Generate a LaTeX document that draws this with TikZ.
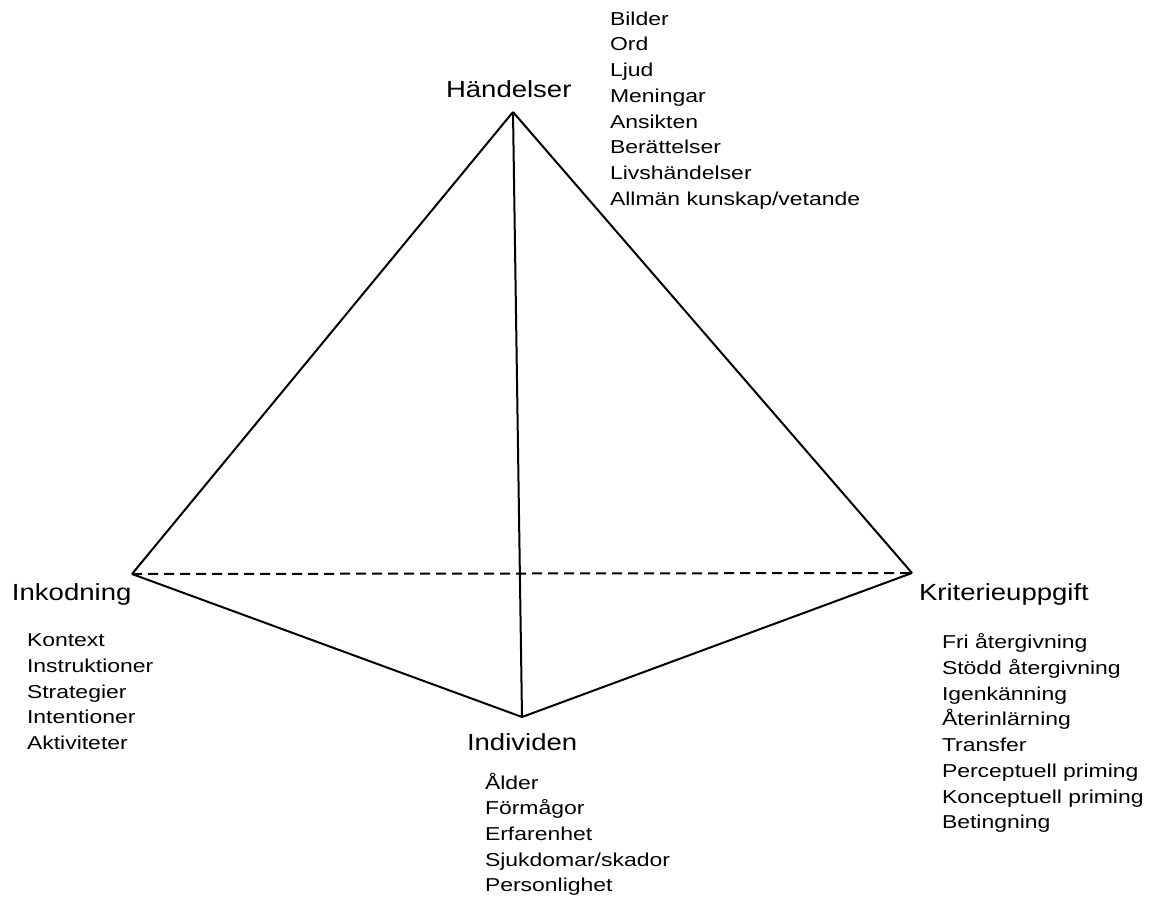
\documentclass[tikz,border=0pt]{standalone}
\usepackage{fontspec}
\setmainfont{Liberation Sans}[FakeStretch=1.18]
\newfontfamily\itemfont{Liberation Sans}[FakeStretch=1.23]

\begin{document}
\begin{tikzpicture}[x=0.75pt,y=-0.75pt,line width=1.5pt,
    head/.style={anchor=base west,inner sep=0pt,font=\fontsize{17.5}{21}\selectfont},
    items/.style={anchor=north west,inner sep=0pt,align=left,
        font=\itemfont\fontsize{14}{19.3}\selectfont,execute at begin node={\rule{0pt}{13pt}}}]
                \useasboundingbox (0,0) rectangle (1156,896);
                \coordinate (top) at (513,112);
                \coordinate (enc) at (132,574);
                \coordinate (task) at (912,573);
                \coordinate (ind) at (522,717);
                \path[draw]
                (top) -- (enc)
                (top) -- (task)
                (top) -- (ind)
                (enc) -- (ind) -- (task);
                \draw[dash pattern=on 7.5pt off 4.5pt] (enc) -- (task);
                \node[head] (handelser) at (445,97) {Händelser};
                \node[head] (inkodning) at (11,600) {Inkodning};
                \node[head] (kriterie) at (918,600) {Kriterieuppgift};
                \node[head] (individen) at (466,750) {Individen};
                \node[items] (handelserlist) at (609,10.7) {Bilder\\Ord\\Ljud\\Meningar\\Ansikten\\Berättelser\\Livshändelser\\Allmän kunskap/vetande};
                \node[items] (inkodninglist) at (26,632.7) {Kontext\\Instruktioner\\Strategier\\Intentioner\\Aktiviteter};
                \node[items] (kriterielist) at (941,632.7) {Fri återgivning\\Stödd återgivning\\Igenkänning\\Återinlärning\\Transfer\\Perceptuell priming\\Konceptuell priming\\Betingning};
                \node[items] (individenlist) at (484,771.7) {Ålder\\Förmågor\\Erfarenhet\\Sjukdomar/skador\\Personlighet};
            \end{tikzpicture}
\end{document}
